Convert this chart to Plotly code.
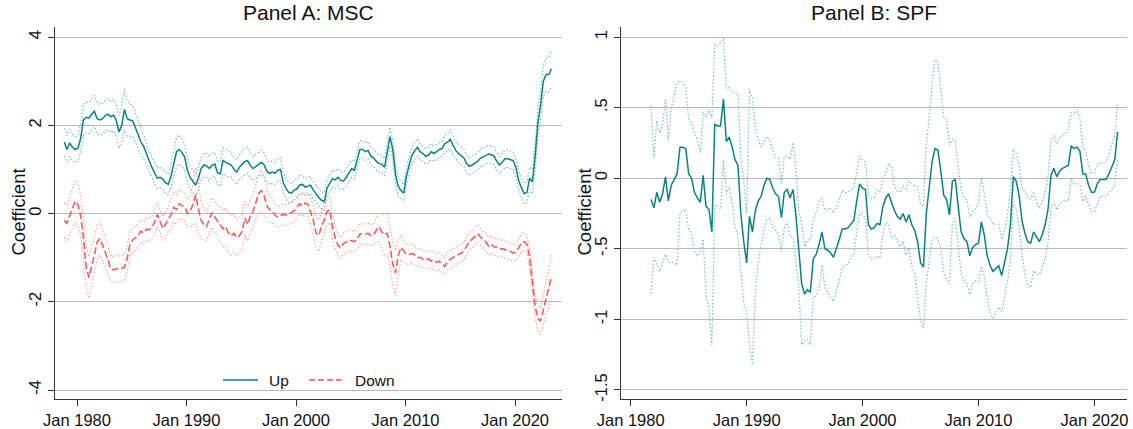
import pandas as pd
import plotly.graph_objects as go

# ---------------------------------------------------------------------------
# Panel A: MSC, quarterly readings from Nov 1978 to May 2023
# ---------------------------------------------------------------------------
msc_up = [
    1.62,
    1.45, 1.60, 1.50, 1.45,   # 1979
    1.48, 1.70, 2.12, 2.18,   # 1980
    2.16, 2.25, 2.32, 2.15,   # 1981
    2.12, 2.15, 2.22, 2.25,   # 1982
    2.19, 2.23, 2.11, 1.85,   # 1983
    2.00, 2.36, 2.15, 2.12,   # 1984
    2.10, 1.95, 1.78, 1.62,   # 1985
    1.52, 1.35, 1.20, 1.05,   # 1986
    0.92, 0.80, 0.82, 0.78,   # 1987
    0.70, 0.66, 0.85, 1.10,   # 1988
    1.40, 1.45, 1.38, 1.28,   # 1989
    0.98, 0.82, 0.72, 0.64,   # 1990
    0.80, 1.02, 1.10, 1.08,   # 1991
    1.02, 1.09, 1.12, 0.92,   # 1992
    0.90, 1.20, 1.16, 1.12,   # 1993
    1.10, 1.00, 0.94, 1.05,   # 1994
    1.12, 1.18, 1.20, 1.08,   # 1995
    1.02, 1.06, 1.10, 1.16,   # 1996
    1.10, 0.96, 0.91, 0.94,   # 1997
    0.91, 0.98, 1.00, 0.70,   # 1998
    0.57, 0.48, 0.46, 0.53,   # 1999
    0.56, 0.65, 0.66, 0.60,   # 2000
    0.62, 0.64, 0.53, 0.44,   # 2001
    0.36, 0.30, 0.27, 0.58,   # 2002
    0.70, 0.79, 0.76, 0.82,   # 2003
    0.75, 0.74, 0.82, 0.92,   # 2004
    1.02, 0.98, 1.22, 1.45,   # 2005
    1.45, 1.40, 1.43, 1.30,   # 2006
    1.26, 1.18, 1.13, 1.12,   # 2007
    1.05, 1.40, 1.74, 1.45,   # 2008
    0.88, 0.62, 0.52, 0.46,   # 2009
    0.85, 1.10, 1.32, 1.42,   # 2010
    1.50, 1.40, 1.36, 1.30,   # 2011
    1.32, 1.40, 1.36, 1.40,   # 2012
    1.45, 1.47, 1.58, 1.62,   # 2013
    1.68, 1.55, 1.43, 1.36,   # 2014
    1.30, 1.26, 1.13, 1.07,   # 2015
    1.10, 1.14, 1.18, 1.25,   # 2016
    1.28, 1.31, 1.35, 1.33,   # 2017
    1.30, 1.18, 1.10, 1.17,   # 2018
    1.24, 1.24, 1.22, 1.20,   # 2019
    1.04, 0.75, 0.58, 0.45,   # 2020
    0.48, 0.80, 0.72, 1.30,   # 2021
    2.05, 2.45, 3.00, 3.15,   # 2022
    3.15, 3.28,               # 2023
]

msc_up_se = [
    0.16,
    0.16, 0.16, 0.15, 0.15,
    0.15, 0.16, 0.17, 0.18,
    0.18, 0.18, 0.18, 0.18,
    0.18, 0.18, 0.18, 0.18,
    0.18, 0.18, 0.18, 0.19,
    0.21, 0.24, 0.20, 0.19,
    0.18, 0.17, 0.16, 0.15,
    0.14, 0.13, 0.12, 0.12,
    0.12, 0.12, 0.12, 0.12,
    0.12, 0.12, 0.13, 0.15,
    0.17, 0.17, 0.16, 0.15,
    0.14, 0.13, 0.13, 0.13,
    0.13, 0.13, 0.14, 0.14,
    0.14, 0.14, 0.14, 0.14,
    0.14, 0.15, 0.15, 0.15,
    0.14, 0.14, 0.14, 0.14,
    0.15, 0.15, 0.15, 0.14,
    0.14, 0.14, 0.14, 0.14,
    0.14, 0.13, 0.13, 0.13,
    0.13, 0.13, 0.13, 0.12,
    0.12, 0.12, 0.11, 0.11,
    0.11, 0.11, 0.10, 0.10,
    0.10, 0.10, 0.10, 0.10,
    0.10, 0.10, 0.10, 0.10,
    0.10, 0.10, 0.10, 0.10,
    0.10, 0.10, 0.10, 0.10,
    0.10, 0.10, 0.10, 0.10,
    0.10, 0.10, 0.10, 0.10,
    0.10, 0.10, 0.10, 0.10,
    0.10, 0.10, 0.11, 0.11,
    0.11, 0.11, 0.10, 0.10,
    0.10, 0.10, 0.10, 0.10,
    0.10, 0.09, 0.09, 0.09,
    0.09, 0.09, 0.09, 0.09,
    0.09, 0.09, 0.10, 0.10,
    0.11, 0.11, 0.10, 0.10,
    0.10, 0.10, 0.10, 0.10,
    0.10, 0.10, 0.10, 0.10,
    0.10, 0.10, 0.10, 0.10,
    0.10, 0.10, 0.10, 0.10,
    0.10, 0.10, 0.10, 0.10,
    0.10, 0.11, 0.11, 0.12,
    0.12, 0.13, 0.14, 0.15,
    0.16, 0.17, 0.18, 0.19,
    0.20, 0.21,
]

msc_down = [
    -0.15,
    -0.22, -0.05, 0.12, 0.28,     # 1979
    0.20, -0.05, -0.55, -1.20,    # 1980
    -1.45, -1.22, -0.95, -0.65,   # 1981
    -0.57, -0.72, -0.88, -1.05,   # 1982
    -1.26, -1.28, -1.25, -1.26,   # 1983
    -1.24, -1.22, -1.02, -0.70,   # 1984
    -0.60, -0.56, -0.50, -0.40,   # 1985
    -0.44, -0.36, -0.37, -0.32,   # 1986
    -0.20, -0.02, -0.16, -0.34,   # 1987
    -0.25, -0.12, -0.03, 0.14,    # 1988
    0.09, 0.22, 0.18, 0.15,       # 1989
    0.00, 0.05, 0.20, 0.42,       # 1990
    0.10, -0.15, -0.25, -0.30,    # 1991
    -0.12, 0.02, -0.08, -0.18,    # 1992
    -0.25, -0.35, -0.30, -0.45,   # 1993
    -0.50, -0.45, -0.55, -0.50,   # 1994
    -0.40, -0.10, -0.25, -0.05,   # 1995
    0.05, 0.28, 0.45, 0.52,       # 1996
    0.40, 0.18, 0.09, 0.05,       # 1997
    -0.04, -0.08, -0.05, -0.02,   # 1998
    -0.04, -0.01, 0.02, 0.06,     # 1999
    0.15, 0.22, 0.17, 0.24,       # 2000
    0.20, 0.05, -0.15, -0.45,     # 2001
    -0.50, -0.28, -0.15, 0.05,    # 2002
    0.08, -0.30, -0.55, -0.72,    # 2003
    -0.78, -0.68, -0.65, -0.60,   # 2004
    -0.63, -0.64, -0.58, -0.46,   # 2005
    -0.48, -0.46, -0.45, -0.50,   # 2006
    -0.48, -0.38, -0.30, -0.42,   # 2007
    -0.48, -0.45, -0.75, -1.15,   # 2008
    -1.35, -0.95, -0.77, -0.85,   # 2009
    -0.92, -0.93, -0.91, -0.94,   # 2010
    -1.00, -0.99, -1.04, -1.05,   # 2011
    -1.03, -1.08, -1.06, -1.11,   # 2012
    -1.08, -1.14, -1.20, -1.08,   # 2013
    -1.03, -1.00, -0.96, -0.92,   # 2014
    -0.90, -0.84, -0.74, -0.64,   # 2015
    -0.58, -0.52, -0.46, -0.53,   # 2016
    -0.60, -0.64, -0.74, -0.70,   # 2017
    -0.76, -0.76, -0.80, -0.80,   # 2018
    -0.82, -0.84, -0.86, -0.90,   # 2019
    -0.88, -0.78, -0.66, -0.64,   # 2020
    -0.70, -1.00, -1.60, -2.10,   # 2021
    -2.38, -2.44, -2.18, -1.95,   # 2022
    -1.68, -1.43,                 # 2023
]

msc_down_se = [
    0.20,
    0.21, 0.22, 0.23, 0.24,
    0.25, 0.24, 0.23, 0.23,
    0.24, 0.22, 0.21, 0.20,
    0.19, 0.18, 0.17, 0.16,
    0.15, 0.15, 0.15, 0.15,
    0.15, 0.15, 0.15, 0.14,
    0.14, 0.14, 0.13, 0.13,
    0.13, 0.13, 0.13, 0.13,
    0.13, 0.14, 0.14, 0.14,
    0.14, 0.15, 0.16, 0.17,
    0.17, 0.17, 0.16, 0.16,
    0.16, 0.18, 0.24, 0.32,
    0.28, 0.22, 0.18, 0.16,
    0.16, 0.17, 0.18, 0.19,
    0.20, 0.21, 0.22, 0.23,
    0.23, 0.22, 0.21, 0.20,
    0.20, 0.19, 0.19, 0.19,
    0.19, 0.21, 0.23, 0.24,
    0.22, 0.18, 0.15, 0.13,
    0.12, 0.12, 0.12, 0.12,
    0.12, 0.12, 0.12, 0.12,
    0.12, 0.12, 0.12, 0.12,
    0.13, 0.15, 0.17, 0.18,
    0.18, 0.17, 0.16, 0.16,
    0.15, 0.14, 0.13, 0.12,
    0.12, 0.12, 0.12, 0.12,
    0.12, 0.12, 0.12, 0.12,
    0.12, 0.12, 0.12, 0.12,
    0.12, 0.14, 0.17, 0.20,
    0.23, 0.24, 0.24, 0.25,
    0.26, 0.20, 0.14, 0.12,
    0.12, 0.11, 0.11, 0.11,
    0.10, 0.10, 0.10, 0.10,
    0.10, 0.10, 0.10, 0.10,
    0.10, 0.10, 0.10, 0.10,
    0.10, 0.10, 0.10, 0.10,
    0.10, 0.10, 0.10, 0.10,
    0.10, 0.10, 0.10, 0.10,
    0.10, 0.10, 0.10, 0.10,
    0.10, 0.10, 0.10, 0.10,
    0.10, 0.10, 0.10, 0.10,
    0.10, 0.10, 0.10, 0.10,
    0.10, 0.11, 0.12, 0.13,
    0.14, 0.15, 0.17, 0.19,
    0.22, 0.25,
]

# ---------------------------------------------------------------------------
# Panel B: SPF, quarterly readings from 1981Q4 to 2022Q1
# ---------------------------------------------------------------------------
spf_up = [
    -0.15, -0.21, -0.10, -0.17, -0.11, 0.01, -0.16, -0.05, -0.01, 0.03,
    0.22, 0.22, 0.21, 0.03, 0.00, -0.10, -0.14, -0.17, 0.02, -0.20,
    -0.22, -0.38, 0.38, 0.37, 0.37, 0.56, 0.26, 0.29, 0.22, 0.13,
    0.09, -0.25, -0.45, -0.60, -0.27, -0.38, -0.23, -0.16, -0.13, -0.05,
    0.00, -0.01, -0.07, -0.11, -0.13, -0.28, -0.10, -0.08, -0.14, -0.08,
    -0.26, -0.50, -0.75, -0.82, -0.79, -0.81, -0.57, -0.54, -0.47, -0.38,
    -0.50, -0.51, -0.53, -0.56, -0.50, -0.43, -0.36, -0.36, -0.35, -0.32,
    -0.30, -0.16, -0.04, -0.07, -0.08, -0.33, -0.36, -0.35, -0.32, -0.33,
    -0.20, -0.14, -0.11, -0.17, -0.23, -0.27, -0.29, -0.25, -0.31, -0.26,
    -0.33, -0.37, -0.45, -0.60, -0.63, -0.25, -0.08, 0.12, 0.21, 0.20,
    0.05, -0.12, -0.15, -0.26, -0.02, -0.01, -0.20, -0.38, -0.43, -0.45,
    -0.55, -0.49, -0.47, -0.46, -0.31, -0.40, -0.55, -0.62, -0.66, -0.64,
    -0.62, -0.69, -0.60, -0.50, -0.33, 0.01, -0.02, -0.12, -0.30, -0.39,
    -0.45, -0.46, -0.38, -0.42, -0.45, -0.40, -0.33, -0.22, 0.02, 0.07,
    0.01, 0.05, 0.07, 0.08, 0.09, 0.23, 0.21, 0.22, 0.19, 0.03,
    0.03, -0.05, -0.10, -0.10, -0.04, -0.01, -0.01, -0.01, 0.03, 0.08,
    0.13, 0.33,
]

spf_up_se = [
    0.34, 0.18, 0.26, 0.25, 0.25, 0.28, 0.22, 0.28, 0.30, 0.33,
    0.24, 0.23, 0.22, 0.20, 0.20, 0.21, 0.21, 0.18, 0.23, 0.32,
    0.36, 0.41, 0.29, 0.29, 0.30, 0.22, 0.19, 0.18, 0.20, 0.24,
    0.26, 0.20, 0.22, 0.18, 0.46, 0.48, 0.30, 0.22, 0.18, 0.16,
    0.15, 0.14, 0.14, 0.13, 0.14, 0.12, 0.13, 0.12, 0.14, 0.17,
    0.17, 0.14, 0.22, 0.17, 0.18, 0.19, 0.14, 0.15, 0.16, 0.12,
    0.14, 0.15, 0.16, 0.16, 0.15, 0.15, 0.14, 0.13, 0.13, 0.12,
    0.12, 0.11, 0.10, 0.10, 0.10, 0.11, 0.11, 0.11, 0.12, 0.12,
    0.10, 0.09, 0.11, 0.13, 0.09, 0.09, 0.10, 0.10, 0.12, 0.12,
    0.15, 0.16, 0.20, 0.21, 0.22, 0.25, 0.26, 0.28, 0.32, 0.32,
    0.28, 0.28, 0.29, 0.25, 0.15, 0.14, 0.14, 0.15, 0.15, 0.15,
    0.14, 0.13, 0.13, 0.14, 0.16, 0.15, 0.15, 0.17, 0.17, 0.16,
    0.15, 0.13, 0.12, 0.12, 0.13, 0.10, 0.10, 0.11, 0.12, 0.15,
    0.16, 0.16, 0.14, 0.13, 0.12, 0.12, 0.12, 0.12, 0.12, 0.12,
    0.12, 0.12, 0.12, 0.12, 0.13, 0.12, 0.13, 0.13, 0.12, 0.10,
    0.08, 0.07, 0.07, 0.07, 0.07, 0.06, 0.06, 0.06, 0.07, 0.08,
    0.09, 0.10,
]

# Axis and legend labels
year_ticks = ["1980-01-01", "1990-01-01", "2000-01-01", "2010-01-01", "2020-01-01"]
year_labels = ["Jan 1980", "Jan 1990", "Jan 2000", "Jan 2010", "Jan 2020"]
msc_yticks = [-4, -2, 0, 2, 4]
msc_ylabels = ["-4", "-2", "0", "2", "4"]
spf_yticks = [-1.5, -1, -0.5, 0, 0.5, 1]
spf_ylabels = ["-1.5", "-1", "-.5", "0", ".5", "1"]
series_names = ["Up", "Down"]

Z95 = 1.96

# ---------------------------------------------------------------------------
FONT = "Liberation Sans, Arial, Helvetica, sans-serif"
TEAL = "#0B8282"
TEAL_CI = "#79BEBE"
RED = "#FF5252"
RED_CI = "#FFA3A3"
AXIS = "#333333"
GRID = "#B9B9B9"
INK = "#111111"
RED_DASH = "7px,3px"
W, H = 1133, 429

dates_a = pd.date_range("1978-11-01", periods=len(msc_up), freq="3MS")
dates_b = pd.date_range("1981-10-01", periods=len(spf_up), freq="3MS")


def bounds(coef, se):
    lo = [c - Z95 * s for c, s in zip(coef, se)]
    hi = [c + Z95 * s for c, s in zip(coef, se)]
    return lo, hi


fig = go.Figure()


def add_band(x, coef, se, color, xa, ya):
    lo, hi = bounds(coef, se)
    for edge in (lo, hi):
        fig.add_trace(go.Scatter(
            x=x, y=edge, mode="lines", xaxis=xa, yaxis=ya,
            line=dict(color=color, width=1.2, dash="1.5px,2px"),
            showlegend=False, hoverinfo="skip"))


# Panel A
add_band(dates_a, msc_up, msc_up_se, TEAL_CI, "x", "y")
add_band(dates_a, msc_down, msc_down_se, RED_CI, "x", "y")
fig.add_trace(go.Scatter(
    x=dates_a, y=msc_up, mode="lines", name=series_names[0], xaxis="x", yaxis="y",
    line=dict(color=TEAL, width=1.5), showlegend=False))
fig.add_trace(go.Scatter(
    x=dates_a, y=msc_down, mode="lines", name=series_names[1], xaxis="x", yaxis="y",
    line=dict(color=RED, width=1.5, dash=RED_DASH), showlegend=False))

# Panel B
add_band(dates_b, spf_up, spf_up_se, TEAL_CI, "x2", "y2")
fig.add_trace(go.Scatter(
    x=dates_b, y=spf_up, mode="lines", name=series_names[0], xaxis="x2", yaxis="y2",
    line=dict(color=TEAL, width=1.5), showlegend=False))


def px_x(a, b):
    return [a / W, b / W]


def px_y(top, bottom):
    return [1 - bottom / H, 1 - top / H]


xcommon = dict(
    type="date", tickmode="array", tickvals=year_ticks, ticktext=year_labels,
    ticks="outside", ticklen=6, tickwidth=1, tickcolor=AXIS, automargin=False,
    showline=True, linecolor=AXIS, linewidth=1, showgrid=False, zeroline=False,
    tickfont=dict(family=FONT, size=16.5, color=INK),
)
ycommon = dict(
    tickmode="array", tickangle=-90, automargin=False,
    ticks="outside", ticklen=6, tickwidth=1, tickcolor=AXIS,
    showline=True, linecolor=AXIS, linewidth=1,
    showgrid=True, gridcolor=GRID, gridwidth=1, zeroline=False,
    tickfont=dict(family=FONT, size=16.5, color=INK),
)

fig.update_layout(
    template="none",
    width=W, height=H, autosize=False,
    margin=dict(l=0, r=0, t=0, b=0, pad=0),
    paper_bgcolor="white", plot_bgcolor="white",
    font=dict(family=FONT, color=INK),
    xaxis=dict(xcommon, domain=px_x(55, 562), anchor="y",
               range=["1977-12-28", "2024-04-15"]),
    yaxis=dict(ycommon, domain=px_y(27, 399), anchor="x",
               range=[-4.204, 4.227], tickvals=msc_yticks, ticktext=msc_ylabels),
    xaxis2=dict(xcommon, domain=px_x(621, 1127), anchor="y2",
                range=["1979-03-01", "2022-10-23"]),
    yaxis2=dict(ycommon, domain=px_y(27, 399), anchor="x2",
                range=[-1.564, 1.071], tickvals=spf_yticks, ticktext=spf_ylabels),
    showlegend=False,
    hovermode=False,
)

# Legend of panel A: key line followed by its label
legend_y = 1 - 380 / H
legend_keys = [
    (series_names[0], 223, 258, 267, dict(color=TEAL, width=1.5)),
    (series_names[1], 309, 345, 353, dict(color=RED, width=1.5, dash="6px,3px")),
]
for label, x0, x1, tx, style in legend_keys:
    fig.add_shape(type="line", xref="paper", yref="paper",
                  x0=x0 / W, x1=x1 / W, y0=legend_y, y1=legend_y, line=style)
    fig.add_annotation(text=label, x=tx / W, y=legend_y, xref="paper", yref="paper",
                       xanchor="left", yanchor="middle", showarrow=False,
                       font=dict(family=FONT, size=15.5, color=INK))

titles = [("Panel A: MSC", 308.5), ("Panel B: SPF", 874)]
for text, cx in titles:
    fig.add_annotation(text=text, x=cx / W, y=1 - 13 / H, xref="paper", yref="paper",
                       xanchor="center", yanchor="middle", showarrow=False,
                       font=dict(family=FONT, size=21, color=INK))
for cx in (18, 584):
    fig.add_annotation(text="Coefficient", x=cx / W, y=1 - 212.5 / H,
                       xref="paper", yref="paper", textangle=-90,
                       xanchor="center", yanchor="middle", showarrow=False,
                       font=dict(family=FONT, size=18.5, color=INK))

fig.write_html("out.html")
